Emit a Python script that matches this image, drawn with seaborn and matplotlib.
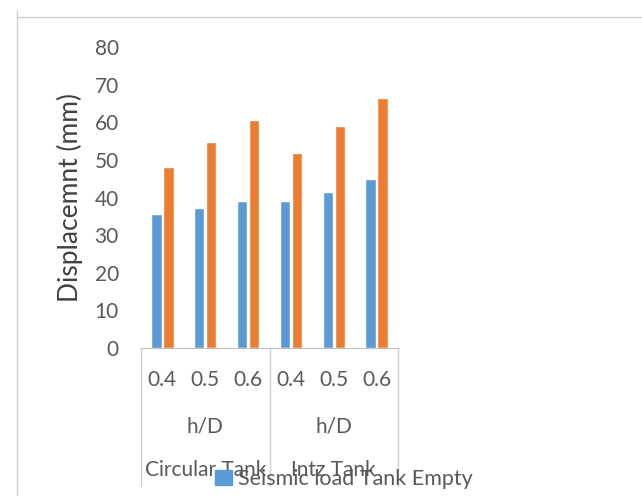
import numpy as np
import pandas as pd
from matplotlib import pyplot as plt
from matplotlib.lines import Line2D
import seaborn as sns

tanks = ['Circular Tank', 'Intz Tank']
hd = ['0.4', '0.5', '0.6']
empty = [35.5, 37.2, 39.1, 39.1, 41.4, 44.8]
full = [48.2, 54.8, 60.7, 51.7, 59.1, 66.5]
series = ['Seismic load Tank Empty', 'Seismic load Tank Full']

rows = []
i = 0
for t in tanks:
    for h in hd:
        rows.append([i, series[0], empty[i]])
        rows.append([i, series[1], full[i]])
        i += 1
df = pd.DataFrame(rows, columns=['pos', 'load', 'disp'])

sns.set_style('white')
plt.rcParams['font.family'] = ['Lato', 'DejaVu Sans']
grey = '#595959'

fig = plt.figure(figsize=(6.42, 4.96), dpi=100)
ax = fig.add_axes([141/642, 148/496, 257/642, 301/496])
sns.barplot(data=df, x='pos', y='disp', hue='load', palette=['#5B9BD5', '#ED7D31'],
            saturation=1, width=0.56, gap=0.15, ax=ax, legend=False)

ax.set_xlim(-0.5, 5.5)
ax.set_ylim(0, 80)
ax.set_yticks(range(0, 81, 10))
ax.set_xticks(range(6))
ax.set_xticklabels(hd * len(tanks))
ax.tick_params(axis='y', length=0, pad=16, labelsize=15, labelcolor=grey)
ax.tick_params(axis='x', length=0, pad=16, labelsize=15, labelcolor=grey)
ax.set_xlabel('')
ax.set_ylabel('Displacemnt (mm)', fontsize=19, color='#404040', labelpad=8)
for s in ['top', 'right', 'left']:
    ax.spines[s].set_visible(False)
ax.spines['bottom'].set_color('#BFBFBF')

# group boxes under the axis
tr = ax.get_xaxis_transform()
for xb in [-0.5, 2.5, 5.5]:
    ax.plot([xb, xb], [0, -0.46], transform=tr, color='#D0D0D0', lw=1, clip_on=False)
for k, t in enumerate(tanks):
    c = k * 3 + 1
    ax.text(c, -0.26, 'h/D', transform=tr, ha='center', va='center', fontsize=15, color=grey)
    ax.text(c, -0.405, t, transform=tr, ha='center', va='center', fontsize=15, color=grey)

# legend (only the first series is visible)
handle = [plt.Rectangle((0, 0), 1, 1, color='#5B9BD5')]
fig.legend(handle, [series[0]], loc='center left', bbox_to_anchor=(196/642, 1 - 479/496),
           frameon=False, fontsize=15.5, labelcolor=grey, handlelength=0.75, handleheight=0.75,
           handletextpad=0.3)

# chart frame
fig.add_artist(Line2D([17/642, 17/642], [0, 1 - 10/496], color='#D0D0D0', lw=1))
fig.add_artist(Line2D([17/642, 1], [1 - 17/496, 1 - 17/496], color='#D0D0D0', lw=1))

fig.savefig('out.png', dpi=100)
